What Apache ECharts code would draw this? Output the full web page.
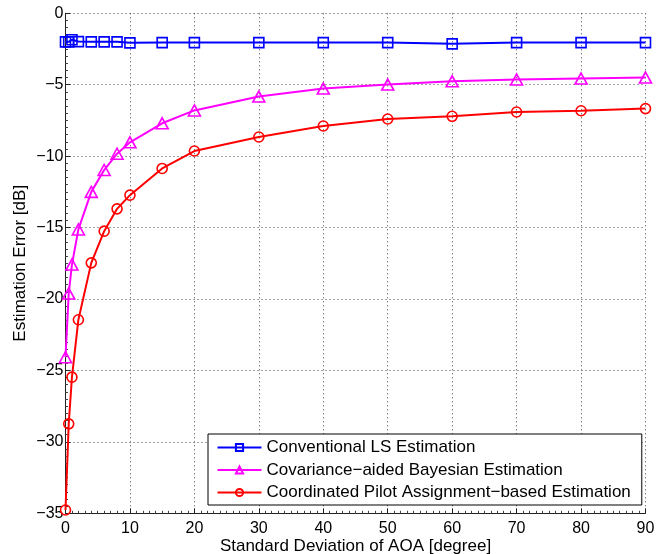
<!DOCTYPE html>
<html>
<head>
<meta charset="utf-8">
<script src="https://cdn.jsdelivr.net/npm/echarts@6/dist/echarts.min.js"></script>
<style>
html,body{margin:0;padding:0;background:#fff;}
#c{width:667px;height:554px;}
</style>
</head>
<body>
<div id="c"></div>
<script>
const aoaStd = [0, 0.5, 1, 2, 4, 6, 8, 10, 15, 20, 30, 40, 50, 60, 70, 80, 90];
const conventionalLS = [-2.0, -2.0, -1.85, -1.98, -2.0, -2.0, -2.0, -2.07, -2.05, -2.05, -2.05, -2.05, -2.05, -2.14, -2.05, -2.05, -2.05];
const covBayesian = [-24.07, -19.62, -17.59, -15.13, -12.50, -10.97, -9.83, -9.03, -7.70, -6.80, -5.83, -5.27, -4.99, -4.76, -4.64, -4.57, -4.50];
const coordPilot = [-34.77, -28.74, -25.47, -21.45, -17.47, -15.25, -13.69, -12.73, -10.86, -9.64, -8.66, -7.89, -7.40, -7.21, -6.91, -6.82, -6.67];
const seriesNames = ['Conventional LS Estimation', 'Covariance\u2212aided Bayesian Estimation', 'Coordinated Pilot Assignment\u2212based Estimation'];

const FONT = 'Liberation Sans, Arial, Helvetica, sans-serif';
function pairs(ys){ return aoaStd.map((x,i)=>[x, ys[i]]); }
function mk(name, ys, color, symbol, size){
  return {
    name: name, type: 'line', data: pairs(ys),
    symbol: symbol, symbolSize: size, showSymbol: true,
    lineStyle: {color: color, width: 2},
    itemStyle: {color: 'rgba(255,255,255,0)', borderColor: color, borderWidth: 1.6},
    color: color,
    emphasis: {disabled: true},
    animation: false, z: 3
  };
}
const chart = echarts.init(document.getElementById('c'), null, {renderer: 'canvas'});
chart.setOption({
  animation: false,
  backgroundColor: '#fff',
  textStyle: {fontFamily: FONT},
  grid: {left: 65.5, right: 21.5, top: 13.3, bottom: 40.7, containLabel: false, outerBoundsMode: 'none'},
  xAxis: {
    type: 'value', min: 0, max: 90, interval: 10,
    name: 'Standard Deviation of AOA [degree]', nameLocation: 'middle', nameGap: 25,
    nameMoveOverlap: false,
    nameTextStyle: {fontSize: 17, color: '#000', fontFamily: FONT},
    axisLine: {show: true, onZero: false, lineStyle: {color: '#222', width: 1}},
    axisTick: {show: true, inside: true, length: 5, lineStyle: {color: '#222'}},
    minorTick: {show: true, splitNumber: 10, length: 2.5, lineStyle: {color: '#444'}},
    axisLabel: {fontSize: 16, color: '#000', margin: 7, fontFamily: FONT},
    splitLine: {show: true, lineStyle: {type: [1, 3], color: '#444', width: 1}}
  },
  yAxis: {
    type: 'value', min: -35, max: 0, interval: 5,
    name: 'Estimation Error [dB]', nameLocation: 'middle', nameGap: 37,
    nameMoveOverlap: false,
    nameTextStyle: {fontSize: 17, color: '#000', fontFamily: FONT},
    axisLine: {show: true, onZero: false, lineStyle: {color: '#222', width: 1}},
    axisTick: {show: true, inside: true, length: 5, lineStyle: {color: '#222'}},
    minorTick: {show: true, splitNumber: 10, length: 2.5, lineStyle: {color: '#444'}},
    axisLabel: {fontSize: 16, color: '#000', margin: 2, fontFamily: FONT,
      formatter: v => String(v).replace('-', '\u2212')},
    splitLine: {show: true, lineStyle: {type: [1, 3], color: '#444', width: 1}}
  },
  legend: {
    orient: 'vertical', left: 208, top: 434,
    padding: [5, 11, 4, 8.5],
    itemWidth: 44, itemHeight: 9, itemGap: 5.5,
    borderColor: '#000', borderWidth: 1, backgroundColor: '#fff',
    textStyle: {fontSize: 17, color: '#000', fontFamily: FONT},
    data: seriesNames,
    selectedMode: false
  },
  series: [
    mk(seriesNames[0], conventionalLS, '#0000ff', 'rect', 10),
    mk(seriesNames[1], covBayesian, '#ff00ff', 'triangle', [12, 11]),
    mk(seriesNames[2], coordPilot, '#ff0000', 'circle', 10)
  ]
});
</script>
</body>
</html>
